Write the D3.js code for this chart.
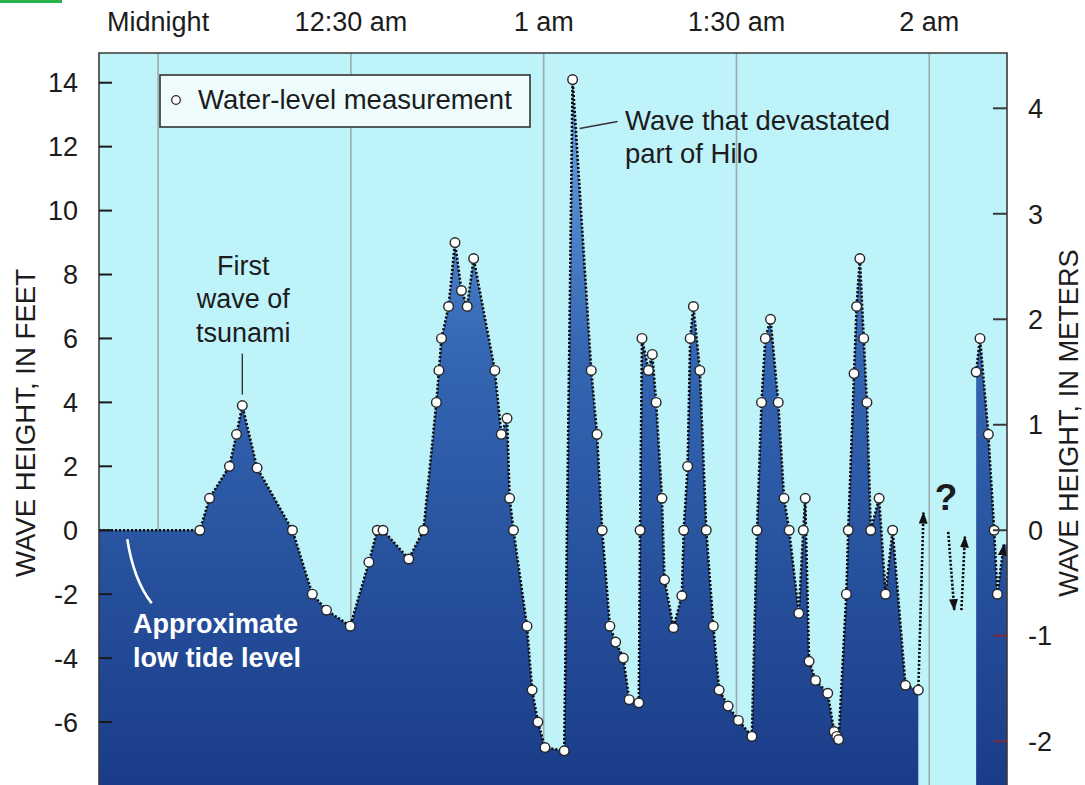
<!DOCTYPE html>
<html><head><meta charset="utf-8">
<script src="https://cdn.jsdelivr.net/npm/d3@7"></script>
<style>
body{margin:0;background:#fff}
svg{display:block}
text{font-family:"Liberation Sans",Arial,Helvetica,sans-serif;fill:#1c1c1c}
</style>
</head><body>
<svg id="c" width="1085" height="785"></svg>
<script>
// ---------- data ----------
const timeTicks = [0, 30, 60, 90, 120];               // minutes after midnight
const timeLabels = ["Midnight", "12:30 am", "1 am", "1:30 am", "2 am"];
const feetTicks = [-6, -4, -2, 0, 2, 4, 6, 8, 10, 12, 14];
const meterTicks = [-2, -1, 0, 1, 2, 3, 4];
const lowTideFeet = 0;

const wave1Minutes = [6.5, 8.0, 11.1, 12.2, 13.1, 15.4, 20.9, 24.0, 26.2, 29.9,
  32.8, 34.1, 35.0, 39.0, 41.3, 43.3, 43.7, 44.1, 45.2, 46.2,
  47.2, 48.1, 49.1, 52.4, 53.4, 54.3, 54.7, 55.3, 57.4, 58.2,
  59.1, 60.2, 63.2, 64.5, 67.4, 68.3, 69.1, 70.3, 71.2, 72.4,
  73.3, 74.8, 75.0, 75.3, 76.3, 76.9, 77.5, 78.4, 78.8, 80.2,
  81.5, 81.8, 82.4, 82.8, 83.3, 84.3, 85.3, 86.4, 87.3, 88.7,
  90.3, 92.4, 93.2, 93.9, 94.5, 95.3, 96.5, 97.4, 98.2, 99.7,
  100.4, 100.7, 101.3, 102.3, 104.2, 105.2, 105.6, 105.9, 107.1, 107.4,
  108.3, 108.7, 109.2, 109.8, 110.3, 110.9, 112.2, 113.2, 114.3, 116.3,
  118.3];
const wave1Feet = [0, 1, 2, 3, 3.9, 1.95, 0, -2, -2.5, -3,
  -1, 0, 0, -0.9, 0, 4, 5, 6, 7, 9,
  7.5, 7, 8.5, 5, 3, 3.5, 1, 0, -3, -5,
  -6, -6.8, -6.9, 14.1, 5, 3, 0, -3, -3.5, -4,
  -5.3, -5.4, 0, 6, 5, 5.5, 4, 1, -1.55, -3.05,
  -2.05, 0, 2, 6, 7, 5, 0, -3, -5, -5.5,
  -5.95, -6.45, 0, 4, 6, 6.6, 4, 1, 0, -2.6,
  0, 1, -4.1, -4.7, -5.1, -6.3, -6.45, -6.55, -2, 0,
  4.9, 7, 8.5, 6, 4, 0, 1, -2, 0, -4.85,
  -5];
const wave2Minutes = [127.3, 127.9, 129.2, 130.1, 130.6];
const wave2Feet = [4.95, 6, 3, 0, -2];

// uncertain readings in the gap (dotted arrows)
const arrowFromMinutes = [118.3, 122.95, 125.0, 130.6];
const arrowFromFeet = [-5, -0.05, -2.5, -2];
const arrowToMinutes = [119.1, 123.9, 125.55, 131.6];
const arrowToFeet = [0.55, -2.5, -0.2, -0.45];

// ---------- layout ----------
const svg = d3.select("#c");
const P = {left: 99, right: 1007, top: 53, bottom: 785};
const FT_PER_M = 3.3;
const x = d3.scaleLinear().domain([-9.2, 132.1]).range([P.left, P.right]);
const y = d3.scaleLinear().domain([-7.97, 14.93]).range([P.bottom, P.top]);
const yM = d3.scaleLinear().domain(y.domain().map(v => v / FT_PER_M)).range(y.range());

const defs = svg.append("defs");
const grad = defs.append("linearGradient").attr("id", "fillGrad")
  .attr("gradientUnits", "userSpaceOnUse").attr("x1", 0).attr("x2", 0)
  .attr("y1", y(14.5)).attr("y2", P.bottom);
grad.append("stop").attr("offset", "0%").attr("stop-color", "#6aa8e6");
grad.append("stop").attr("offset", "40%").attr("stop-color", "#3466b2");
grad.append("stop").attr("offset", "100%").attr("stop-color", "#1a3c88");
defs.append("clipPath").attr("id", "plotClip").append("rect")
  .attr("x", P.left).attr("y", P.top).attr("width", P.right - P.left).attr("height", P.bottom - P.top);
defs.append("marker").attr("id", "ah").attr("viewBox", "0 0 12 9")
  .attr("refX", 11).attr("refY", 4.5).attr("markerWidth", 12).attr("markerHeight", 9)
  .attr("markerUnits", "userSpaceOnUse").attr("orient", "auto")
  .append("path").attr("d", "M0,0 L12,4.5 L0,9 Z").attr("fill", "#111");

// green corner mark
svg.append("rect").attr("x", 0).attr("y", 0).attr("width", 62).attr("height", 3).attr("fill", "#27b34a");

// background
svg.append("rect").attr("x", P.left).attr("y", P.top).attr("width", P.right - P.left)
  .attr("height", P.bottom - P.top).attr("fill", "#bff3fa");

const plot = svg.append("g").attr("clip-path", "url(#plotClip)");

// gridlines
plot.selectAll("line.grid").data(timeTicks).join("line").attr("class", "grid")
  .attr("x1", d => x(d)).attr("x2", d => x(d)).attr("y1", P.top).attr("y2", P.bottom)
  .attr("stroke", "#9ea9aa").attr("stroke-width", 1.6);

// series
const pts1 = [[x.domain()[0], lowTideFeet]].concat(wave1Minutes.map((t, i) => [t, wave1Feet[i]]));
const pts2 = wave2Minutes.map((t, i) => [t, wave2Feet[i]]);
const tail = [arrowToMinutes[3], arrowToFeet[3]];
const fill2 = pts2.concat([tail, [x.domain()[1], tail[1]]]);

const area = d3.area().x(d => x(d[0])).y0(P.bottom).y1(d => y(d[1]));
const line = d3.line().x(d => x(d[0])).y(d => y(d[1]));

plot.append("path").attr("d", area(pts1)).attr("fill", "url(#fillGrad)");
plot.append("path").attr("d", area(fill2)).attr("fill", "url(#fillGrad)");

const dotted = {stroke: "#0d0d0d", "stroke-width": 2.6, "stroke-dasharray": "2.2 1.8", fill: "none"};
function applyDotted(sel) { Object.entries(dotted).forEach(([k, v]) => sel.attr(k, v)); return sel; }
applyDotted(plot.append("path").attr("d", line(pts1)));
applyDotted(plot.append("path").attr("d", line(pts2)));

// gap arrows
arrowFromMinutes.forEach((t, i) => {
  applyDotted(plot.append("line")
    .attr("x1", x(t)).attr("y1", y(arrowFromFeet[i]))
    .attr("x2", x(arrowToMinutes[i])).attr("y2", y(arrowToFeet[i])))
    .attr("marker-end", "url(#ah)");
});

// markers
const allPts = pts1.slice(1).concat(pts2);
plot.selectAll("circle.pt").data(allPts).join("circle").attr("class", "pt")
  .attr("cx", d => x(d[0])).attr("cy", d => y(d[1])).attr("r", 4.8)
  .attr("fill", "#fff").attr("stroke", "#262626").attr("stroke-width", 1.4);

// frame
svg.append("path")
  .attr("d", `M${P.left},${P.bottom}V${P.top}H${P.right}V${P.bottom}`)
  .attr("fill", "none").attr("stroke", "#3a3a3a").attr("stroke-width", 1.6);

// left axis
svg.selectAll("line.ftick").data(feetTicks).join("line").attr("class", "ftick")
  .attr("x1", P.left).attr("x2", P.left + 13).attr("y1", d => y(d)).attr("y2", d => y(d))
  .attr("stroke", "#1a1a1a").attr("stroke-width", 2);
svg.selectAll("text.flab").data(feetTicks).join("text").attr("class", "flab")
  .attr("x", 78).attr("y", d => y(d)).attr("dy", "0.36em").attr("text-anchor", "end")
  .attr("font-size", 27).text(d => d);

// right axis
svg.selectAll("line.mtick").data(meterTicks).join("line").attr("class", "mtick")
  .attr("x1", P.right - 14).attr("x2", P.right).attr("y1", d => yM(d)).attr("y2", d => yM(d))
  .attr("stroke", d => d < 0 ? "#7a2a3e" : "#3a3a3a").attr("stroke-width", 2);
svg.selectAll("text.mlab").data(meterTicks).join("text").attr("class", "mlab")
  .attr("x", 1028).attr("y", d => yM(d)).attr("dy", "0.36em").attr("text-anchor", "start")
  .attr("font-size", 27).text(d => d);

// top axis labels
svg.selectAll("text.tlab").data(timeTicks).join("text").attr("class", "tlab")
  .attr("x", d => x(d)).attr("y", 31).attr("text-anchor", "middle")
  .attr("font-size", 27).text((d, i) => timeLabels[i]);

// axis titles
svg.append("text").attr("transform", "translate(35,423) rotate(-90)").attr("text-anchor", "middle")
  .attr("font-size", 27.6).text("WAVE HEIGHT, IN FEET");
svg.append("text").attr("transform", "translate(1078,423) rotate(-90)").attr("text-anchor", "middle")
  .attr("font-size", 27.2).text("WAVE HEIGHT, IN METERS");

// legend
svg.append("rect").attr("x", 160).attr("y", 75).attr("width", 370).attr("height", 52)
  .attr("fill", "#eefcfd").attr("stroke", "#333").attr("stroke-width", 1.6);
svg.append("circle").attr("cx", 176).attr("cy", 100).attr("r", 4.3)
  .attr("fill", "#fff").attr("stroke", "#2a2a2a").attr("stroke-width", 1.3);
svg.append("text").attr("x", 198).attr("y", 109).attr("font-size", 27.5).text("Water-level measurement");

// annotation: first wave
const fwX = x(13.1), fwY = y(3.9);
["First", "wave of", "tsunami"].forEach((s, i) => {
  svg.append("text").attr("x", fwX + 1).attr("y", 275 + i * 33.3).attr("text-anchor", "middle")
    .attr("font-size", 27).text(s);
});
svg.append("line").attr("x1", fwX).attr("x2", fwX).attr("y1", fwY - 52).attr("y2", fwY - 11)
  .attr("stroke", "#333").attr("stroke-width", 1.4);

// annotation: Hilo wave
const hx = x(64.5), hy = y(14.1);
svg.append("line").attr("x1", hx + 7).attr("y1", hy + 49).attr("x2", hx + 45).attr("y2", hy + 42)
  .attr("stroke", "#333").attr("stroke-width", 1.4);
["Wave that devastated", "part of Hilo"].forEach((s, i) => {
  svg.append("text").attr("x", 625).attr("y", 130 + i * 33).attr("font-size", 27.5).text(s);
});

// annotation: low tide
svg.append("path").attr("d", `M${x(-4.8)},${y(lowTideFeet) + 9} Q${x(-3.8)},${y(lowTideFeet) + 50} ${x(-1.0)},${y(lowTideFeet) + 73}`)
  .attr("fill", "none").attr("stroke", "#fff").attr("stroke-width", 2.6);
["Approximate", "low tide level"].forEach((s, i) => {
  svg.append("text").attr("x", 133).attr("y", 633 + i * 34).attr("font-size", 27)
    .attr("font-weight", "bold").style("fill", "#fff").text(s);
});

// question mark in the gap
svg.append("text").attr("x", x(122.6)).attr("y", 510).attr("text-anchor", "middle")
  .attr("font-size", 37).attr("font-weight", "bold").text("?");
</script>
</body></html>
